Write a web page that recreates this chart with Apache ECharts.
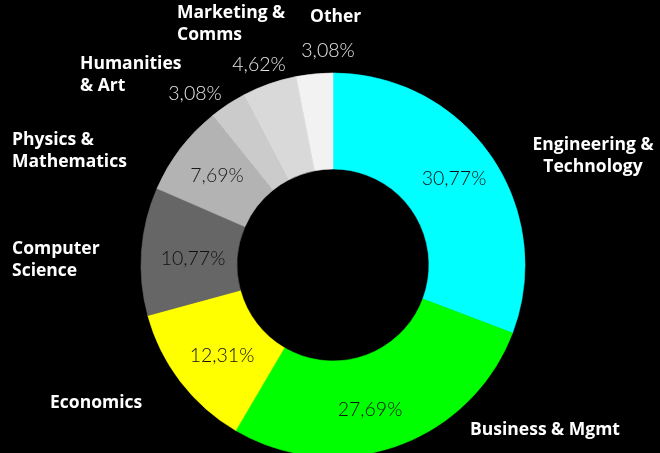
<!DOCTYPE html>
<html>
<head>
<meta charset="utf-8">
<script src="https://cdn.jsdelivr.net/npm/echarts@6/dist/echarts.min.js"></script>
<style>
html,body{margin:0;padding:0;background:#000;}
#chart{width:660px;height:453px;}
</style>
</head>
<body>
<div id="chart"></div>
<script>
// ---- data ----
const categories = ['Engineering &\nTechnology', 'Business & Mgmt', 'Economics', 'Computer\nScience', 'Physics &\nMathematics', 'Humanities\n& Art', 'Marketing &\nComms', 'Other'];
const shares = [30.77, 27.69, 12.31, 10.77, 7.69, 3.08, 4.62, 3.08];
const sliceColors = ['#00ffff', '#00ff00', '#ffff00', '#666666', '#b3b3b3', '#cbcbcb', '#d9d9d9', '#f2f2f2'];
const pctColors = ['#111111', '#111111', '#111111', '#111111', '#1a1a1a', '#e6e6e6', '#e6e6e6', '#e6e6e6'];

// label placement (layout only)
const pctPos = [[454,179],[370,410],[222,356],[193,259],[217,176],[195,94],[259,65],[328,51]];
const namePos = [[593,156,'center'],[545,430,'center'],[50,403,'left'],[12,260,'left'],[12,151,'left'],[80,75,'left'],[177,24,'left'],[310,17,'left']];

const pieData = categories.map((c, i) => ({
  name: c, value: shares[i],
  itemStyle: { color: sliceColors[i], borderColor: sliceColors[i] },
  label: { color: pctColors[i] }
}));
const nameData = categories.map((c, i) => ({ name: c, value: shares[i] }));

const chart = echarts.init(document.getElementById('chart'), null, {renderer: 'canvas'});
chart.setOption({
  backgroundColor: '#000000',
  animation: false,
  series: [
    {
      type: 'pie',
      center: [333, 265],
      radius: [96, 192],
      startAngle: 90,
      clockwise: true,
      silent: true,
      data: pieData,
      itemStyle: { borderWidth: 0.6 },
      labelLine: { show: false },
      label: {
        show: true,
        position: 'inside',
        fontFamily: 'Lato',
        fontWeight: 300,
        fontSize: 19.5,
        formatter: p => p.value.toFixed(2).replace('.', ',') + '%'
      },
      labelLayout: p => ({ x: pctPos[p.dataIndex][0], y: pctPos[p.dataIndex][1], align: 'center', verticalAlign: 'middle' })
    },
    {
      type: 'pie',
      center: [333, 265],
      radius: [96, 192],
      startAngle: 90,
      silent: true,
      data: nameData,
      itemStyle: { color: 'rgba(0,0,0,0)', borderWidth: 0 },
      labelLine: { show: false },
      label: {
        show: true,
        position: 'inside',
        color: '#ffffff',
        fontFamily: 'Open Sans',
        fontWeight: 'bold',
        fontSize: 17.5,
        lineHeight: 22,
        formatter: '{b}'
      },
      labelLayout: p => ({ x: namePos[p.dataIndex][0], y: namePos[p.dataIndex][1], align: namePos[p.dataIndex][2], verticalAlign: 'middle' })
    }
  ]
});
</script>
</body>
</html>
